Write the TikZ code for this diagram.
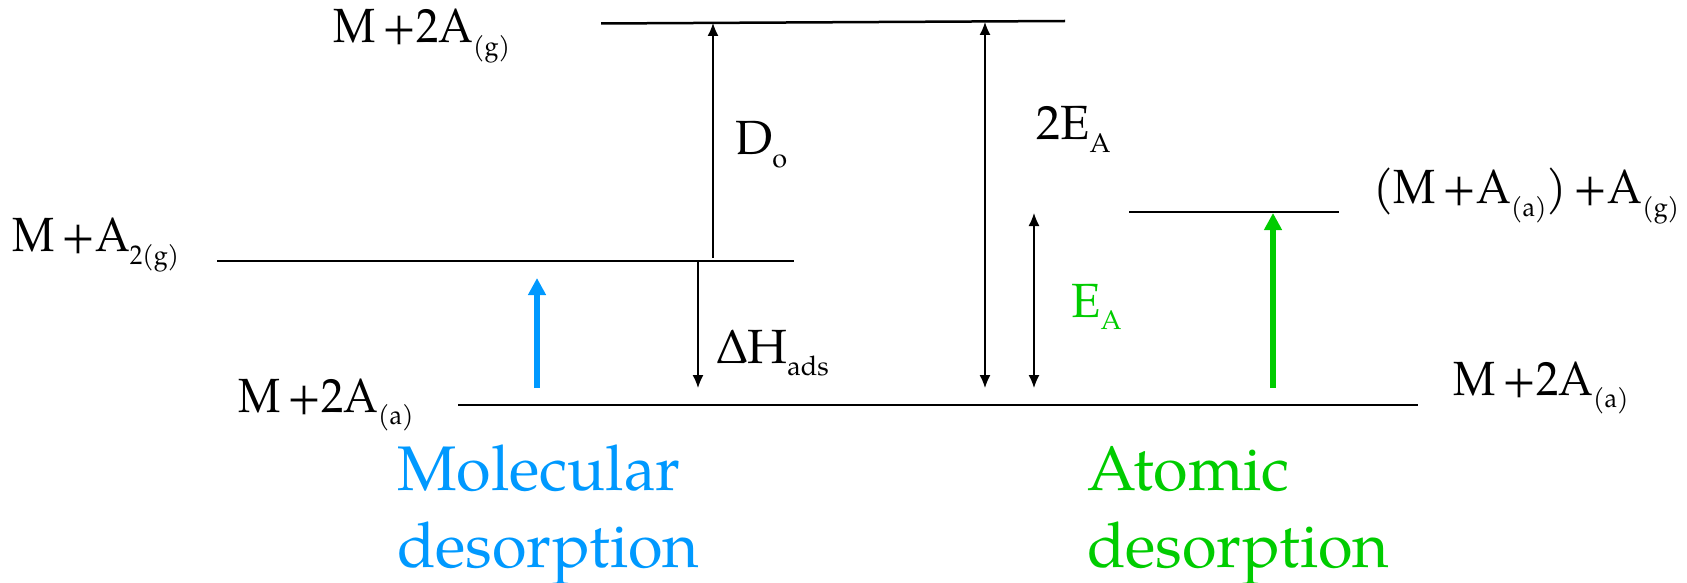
\documentclass[tikz,border=0pt]{standalone}
\usepackage{fontspec}
\setmainfont{texgyrepagella}[Extension=.otf, UprightFont=*-regular, BoldFont=*-bold, ItalicFont=*-italic, BoldItalicFont=*-bolditalic]
\newfontfamily\lvlfont{texgyrepagella}[Extension=.otf, UprightFont=*-regular, FakeStretch=0.93, WordSpace=0.6]
\usetikzlibrary{arrows.meta}

\definecolor{molblue}{RGB}{0,153,255}
\definecolor{atomgreen}{RGB}{0,204,0}
\newcommand{\sbs}[1]{\raisebox{-0.27em}{\fontsize{27bp}{27bp}\selectfont #1}}

\begin{document}
\begin{tikzpicture}[x=1bp, y=-1bp,
  enline/.style={line width=2.5bp},
  gapline/.style={line width=1.4bp, -{Latex[length=13bp,width=11bp]}},
  gapboth/.style={line width=1.4bp, {Latex[length=13bp,width=11bp]}-{Latex[length=13bp,width=11bp]}},
  desorb/.style={line width=5.5bp, -{Triangle[length=17bp,width=17bp]}},
  lbl/.style={anchor=base west, inner sep=0pt, font=\lvlfont\fontsize{48bp}{58bp}\selectfont},
  gaplbl/.style={anchor=base west, inner sep=0pt, font=\fontsize{48bp}{58bp}\selectfont},
  bigtext/.style={anchor=base west, inner sep=0pt, font=\fontsize{63bp}{77bp}\selectfont}]

\useasboundingbox (0,0) rectangle (1687,583);

% energy levels
\coordinate (gasL) at (601,23.5);
\coordinate (gasR) at (1065,21);
\coordinate (molL) at (217,261);
\coordinate (molR) at (794,261);
\coordinate (halfL) at (1129,212);
\coordinate (halfR) at (1339,212);
\coordinate (adsL) at (458,405);
\coordinate (adsR) at (1418,405);
\draw[enline] (gasL) -- (gasR);
\draw[enline] (molL) -- (molR);
\draw[enline] (halfL) -- (halfR);
\draw[enline] (adsL) -- (adsR);

% level names
\node[lbl] (gasname) at (333,43) {M +2A\sbs{(g)}};
\node[lbl] (molname) at (12,252) {M +A\sbs{2(g)}};
\node[lbl] (adsleft) at (238,412) {M +2A\sbs{(a)}};
\node[lbl] (adsright) at (1453,395) {M +2A\sbs{(a)}};
\node[lbl] (halfname) at (1373,204) {(M +A\sbs{(a)}) +A\sbs{(g)}};

% energy gaps
\coordinate (doB) at (713,258);
\coordinate (doT) at (713,23);
\coordinate (dhT) at (698,262);
\coordinate (dhB) at (698,388);
\coordinate (twoT) at (985,22);
\coordinate (twoB) at (985,388);
\coordinate (eaT) at (1034,213);
\coordinate (eaB) at (1034,388);
\draw[gapline] (doB) -- (doT);
\draw[gapline] (dhT) -- (dhB);
\draw[gapboth] (twoT) -- (twoB);
\draw[gapboth] (eaT) -- (eaB);
\node[gaplbl] (dolbl) at (735,155) {D\sbs{o}};
\node[gaplbl] (dhlbl) at (717,363) {ΔH\sbs{ads}};
\node[gaplbl] (twolbl) at (1036,140) {2E\sbs{A}};
\node[gaplbl, text=atomgreen] (ealbl) at (1071,317) {E\sbs{A}};

% desorption steps
\coordinate (blueB) at (537,388);
\coordinate (blueT) at (537,278);
\coordinate (greenB) at (1273,388);
\coordinate (greenT) at (1273,213);
\draw[desorb, molblue] (blueB) -- (blueT);
\draw[desorb, atomgreen] (greenB) -- (greenT);

\node[bigtext, text=molblue] (moltop) at (397,490) {Molecular};
\node[bigtext, text=molblue] (molbot) at (397,567) {desorption};
\node[bigtext, text=atomgreen] (atomtop) at (1087,490) {Atomic};
\node[bigtext, text=atomgreen] (atombot) at (1087,567) {desorption};

\end{tikzpicture}
\end{document}
